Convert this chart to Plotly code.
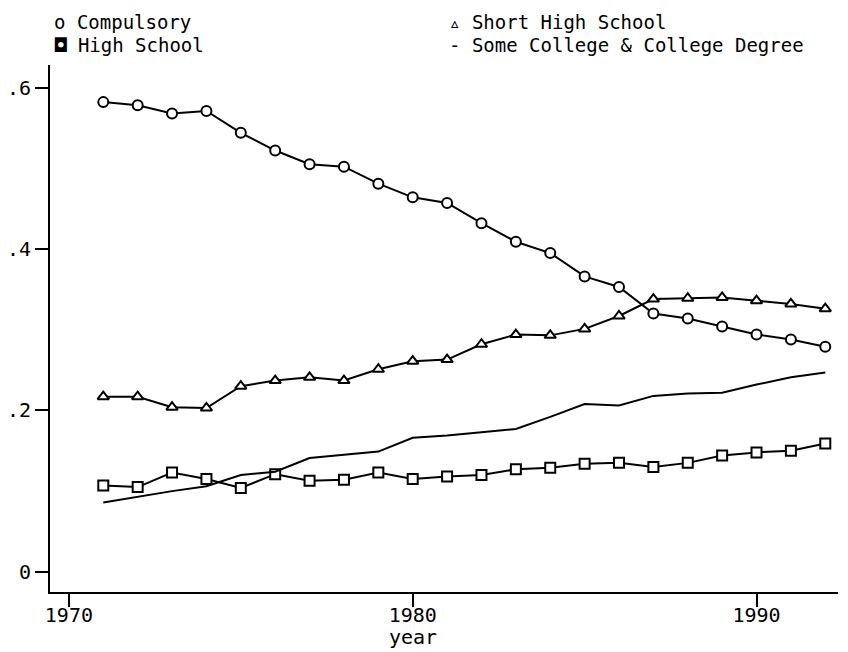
import plotly.graph_objects as go

years = list(range(1971, 1993))

compulsory = [0.582, 0.578, 0.568, 0.571, 0.544, 0.522, 0.505, 0.502, 0.481, 0.464,
              0.457, 0.432, 0.409, 0.395, 0.366, 0.353, 0.320, 0.314, 0.304, 0.294,
              0.288, 0.279]
short_high_school = [0.217, 0.217, 0.204, 0.203, 0.230, 0.237, 0.241, 0.237, 0.251, 0.261,
                     0.263, 0.282, 0.294, 0.293, 0.301, 0.317, 0.338, 0.339, 0.340, 0.336,
                     0.332, 0.326]
high_school = [0.107, 0.105, 0.123, 0.115, 0.104, 0.121, 0.113, 0.114, 0.123, 0.115,
               0.118, 0.120, 0.127, 0.129, 0.134, 0.135, 0.130, 0.135, 0.144, 0.148,
               0.150, 0.159]
college = [0.086, 0.093, 0.100, 0.106, 0.120, 0.124, 0.141, 0.145, 0.149, 0.166,
           0.169, 0.173, 0.177, 0.192, 0.208, 0.206, 0.218, 0.221, 0.222, 0.232,
           0.241, 0.247]

y_ticks = [0, 0.2, 0.4, 0.6]
y_tick_text = ["0", ".2", ".4", ".6"]
x_ticks = [1970, 1980, 1990]

legend_rows = [
    ("o Compulsory", "\u25b5 Short High School"),
    ("\u25d8 High School", "- Some College & College Degree"),
]

FONT = "DejaVu Sans Mono"
ink = "black"


def marked(y, symbol):
    return go.Scatter(
        x=years, y=y, mode="lines+markers",
        line=dict(color=ink, width=2),
        marker=dict(symbol=symbol, size=10, color="white",
                    line=dict(color=ink, width=2)),
        showlegend=False, hoverinfo="x+y",
    )


fig = go.Figure()
fig.add_trace(marked(compulsory, "circle"))
fig.add_trace(marked(short_high_school, "triangle-up"))
fig.add_trace(marked(high_school, "square"))
fig.add_trace(go.Scatter(x=years, y=college, mode="lines",
                         line=dict(color=ink, width=2), showlegend=False))

# legend drawn as text, two columns like the original plotter output
for row, (left, right) in enumerate(legend_rows):
    y_px = 22 + row * 23
    for x_px, label in ((52, left), (447, right)):
        fig.add_annotation(
            text=label, xref="paper", yref="paper",
            x=(x_px - 50) / 788, y=1 + (65 - y_px) / 527,
            xanchor="left", yanchor="middle", showarrow=False,
            font=dict(family=FONT, size=19, color=ink),
        )

fig.add_annotation(text="year", xref="x", yref="paper", x=1980, y=-0.086,
                   xanchor="center", yanchor="middle", showarrow=False,
                   font=dict(family=FONT, size=20, color=ink))

fig.update_xaxes(
    range=[1969.45, 1992.37], tickvals=x_ticks, ticks="outside", ticklen=13,
    tickwidth=2, tickcolor=ink, showline=True, linecolor=ink, linewidth=2,
    showgrid=False, zeroline=False, automargin=False,
    tickfont=dict(family=FONT, size=20, color=ink), ticklabelstandoff=-9,
)
fig.update_yaxes(
    range=[-0.025, 0.628], tickvals=y_ticks, ticktext=y_tick_text,
    ticks="outside", ticklen=13, tickwidth=2, tickcolor=ink,
    showline=True, linecolor=ink, linewidth=2, showgrid=False, zeroline=False,
    automargin=False,
    tickfont=dict(family=FONT, size=20, color=ink), ticklabelstandoff=0,
)
# page body adds an 8px offset, so the figure is sized to sit inside the window
fig.update_layout(
    width=840, height=644, margin=dict(l=42, r=10, t=57, b=60),
    plot_bgcolor="white", paper_bgcolor="white",
)

fig.write_html("out.html")
